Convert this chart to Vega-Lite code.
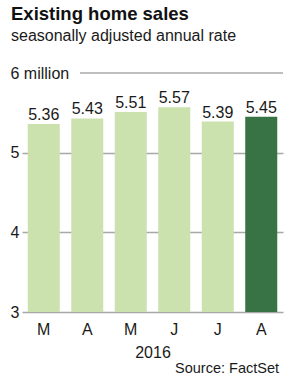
{
  "$schema": "https://vega.github.io/schema/vega-lite/v6.json",
  "autosize": "none",
  "padding": {"left": 22, "top": 73, "right": 24, "bottom": 69},
  "width": 261,
  "height": 239,
  "background": "white",
  "config": {
    "font": "Liberation Sans",
    "view": {"stroke": null},
    "axis": {"labelFont": "Liberation Sans", "titleFont": "Liberation Sans", "labelColor": "#1a1a1a", "titleColor": "#1a1a1a"}
  },
  "title": {
    "text": "Existing home sales",
    "subtitle": "seasonally adjusted annual rate",
    "anchor": "start",
    "frame": "group",
    "dx": -11,
    "offset": 21,
    "font": "Liberation Sans",
    "fontSize": 18.5,
    "fontWeight": "bold",
    "color": "#111111",
    "subtitleFont": "Liberation Sans",
    "subtitleFontSize": 16,
    "subtitleColor": "#1a1a1a",
    "subtitlePadding": 5
  },
  "data": {
    "values": [
      {"month": "Mar", "sales": 5.36},
      {"month": "Apr", "sales": 5.43},
      {"month": "May", "sales": 5.51},
      {"month": "Jun", "sales": 5.57},
      {"month": "Jul", "sales": 5.39},
      {"month": "Aug", "sales": 5.45}
    ]
  },
  "resolve": {"scale": {"x": "independent"}},
  "layer": [
    {
      "mark": {"type": "bar"},
      "encoding": {
        "x": {
          "field": "month",
          "type": "nominal",
          "sort": null,
          "scale": {"paddingInner": 0.264, "paddingOuter": 0.132},
          "axis": {
            "title": "2016",
            "titleFontSize": 16,
            "titleFontWeight": "normal",
            "titlePadding": 7,
            "labelExpr": "substring(datum.label, 0, 1)",
            "labelAngle": 0,
            "labelFontSize": 16,
            "labelPadding": 9,
            "ticks": false,
            "domain": false
          }
        },
        "y": {
          "field": "sales",
          "type": "quantitative",
          "scale": {"domain": [3, 6], "zero": false, "nice": false},
          "axis": {
            "title": null,
            "values": [3, 4, 5, 6],
            "format": "d",
            "labelExpr": "datum.value == 6 ? '6 million' : datum.label",
            "labelAlign": "left",
            "labelPadding": 12,
            "labelFontSize": 16,
            "ticks": false,
            "tickSize": 0,
            "domain": false,
            "grid": true,
            "gridColor": "#a8a8a8",
            "gridWidth": 1.5,
            "gridOpacity": {"condition": {"test": "datum.value === 6", "value": 0}, "value": 1}
          }
        },
        "y2": {"datum": 3},
        "color": {
          "condition": {"test": "datum.month === 'Aug'", "value": "#387345"},
          "value": "#cbe2ae"
        }
      }
    },
    {
      "mark": {"type": "text", "baseline": "alphabetic", "dy": -4, "fontSize": 16, "color": "#1a1a1a"},
      "encoding": {
        "x": {"field": "month", "type": "nominal", "sort": null, "scale": {"paddingInner": 0.264, "paddingOuter": 0.132}, "axis": null},
        "y": {"field": "sales", "type": "quantitative"},
        "text": {"field": "sales", "type": "quantitative", "format": ".2f"}
      }
    },
    {
      "data": {"values": [{"level": 6}]},
      "mark": {"type": "rule", "color": "#a8a8a8", "strokeWidth": 1.5},
      "encoding": {
        "x": {"datum": 0.222, "type": "quantitative", "scale": {"domain": [0, 1], "nice": false, "zero": false}, "axis": null},
        "x2": {"datum": 1},
        "y": {"field": "level", "type": "quantitative"}
      }
    },
    {
      "data": {"values": [{"note": "Source: FactSet"}]},
      "mark": {"type": "text", "align": "right", "baseline": "alphabetic", "dx": -4, "dy": 61, "fontSize": 14.5, "color": "#1a1a1a"},
      "encoding": {
        "x": {"datum": 1, "type": "quantitative", "scale": {"domain": [0, 1], "nice": false, "zero": false}, "axis": null},
        "y": {"datum": 3, "type": "quantitative"},
        "text": {"field": "note", "type": "nominal"}
      }
    }
  ]
}
